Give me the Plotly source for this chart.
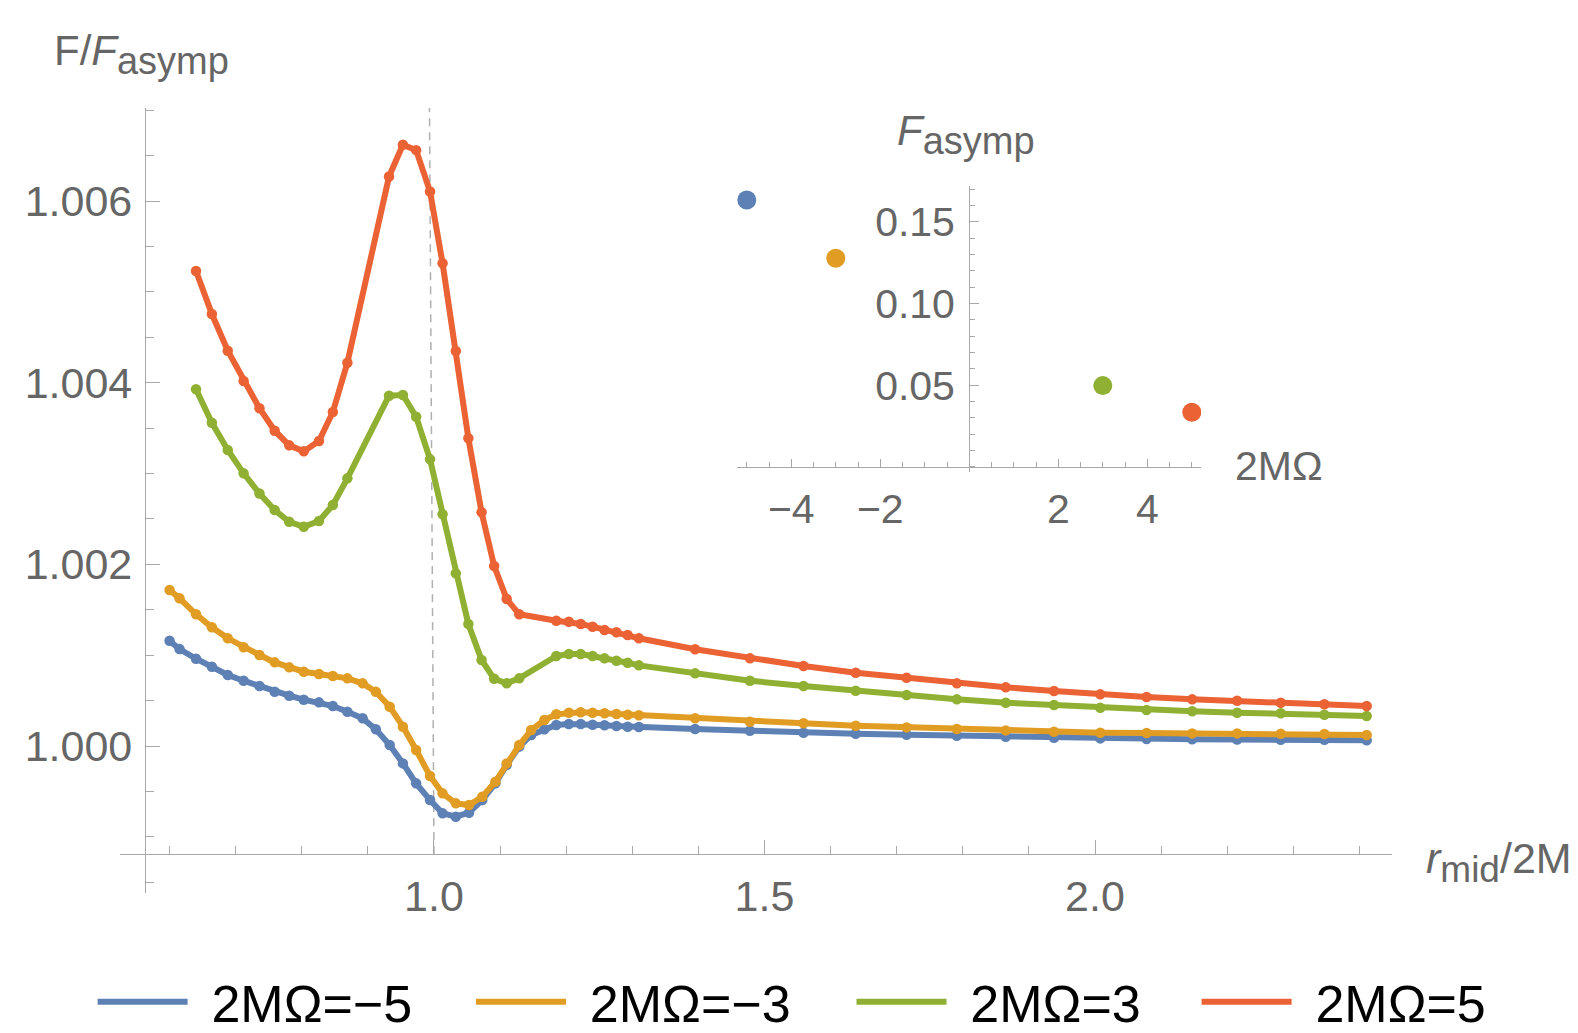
import plotly.graph_objects as go

# ---------------- data ----------------
# r_mid/2M sampling for 2MΩ = -5 and -3
x_neg = [0.600, 0.615, 0.640, 0.664, 0.688, 0.712, 0.736, 0.759, 0.781, 0.803,
         0.826, 0.847, 0.869, 0.892, 0.912, 0.933, 0.953, 0.973, 0.994, 1.013,
         1.033, 1.053, 1.073, 1.093, 1.110, 1.129, 1.147, 1.167, 1.185, 1.204,
         1.222, 1.240, 1.258, 1.276, 1.293, 1.310, 1.395, 1.478, 1.559, 1.638,
         1.715, 1.791, 1.865, 1.938, 2.008, 2.078, 2.147, 2.215, 2.281, 2.347,
         2.411]

y_m5 = [1.001159, 1.001068, 1.000961, 1.000873, 1.000782, 1.000719, 1.000661, 1.000598, 1.000554, 1.000510,
        1.000481, 1.000440, 1.000378, 1.000305, 1.000184, 1.000011, 0.999809, 0.999589, 0.999405, 0.999259,
        0.999222, 0.999266, 0.999405, 0.999589, 0.999791, 0.999993, 1.000121, 1.000185, 1.000231, 1.000242,
        1.000242, 1.000235, 1.000228, 1.000220, 1.000213, 1.000210, 1.000187, 1.000169, 1.000147, 1.000135,
        1.000125, 1.000114, 1.000103, 1.000092, 1.000084, 1.000078, 1.000074, 1.000072, 1.000070, 1.000068,
        1.000064]

y_m3 = [1.001717, 1.001626, 1.001450, 1.001307, 1.001186, 1.001087, 1.001002, 1.000921, 1.000866, 1.000818,
        1.000793, 1.000771, 1.000745, 1.000690, 1.000598, 1.000433, 1.000213, 0.999956, 0.999670, 0.999479,
        0.999369, 0.999350, 0.999442, 0.999607, 0.999809, 1.000011, 1.000176, 1.000286, 1.000349, 1.000367,
        1.000371, 1.000367, 1.000360, 1.000352, 1.000345, 1.000338, 1.000305, 1.000268, 1.000250, 1.000224,
        1.000205, 1.000187, 1.000172, 1.000158, 1.000147, 1.000143, 1.000139, 1.000139, 1.000136, 1.000132,
        1.000121]

# r_mid/2M sampling for 2MΩ = 3 and 5
x_pos = [0.640, 0.664, 0.688, 0.712, 0.736, 0.759, 0.781, 0.803, 0.826, 0.847,
         0.869, 0.932, 0.953, 0.973, 0.994, 1.013, 1.033, 1.052, 1.072, 1.091,
         1.110, 1.129, 1.185, 1.204, 1.222, 1.240, 1.258, 1.276, 1.293, 1.310,
         1.395, 1.478, 1.559, 1.638, 1.715, 1.791, 1.865, 1.938, 2.008, 2.078,
         2.147, 2.215, 2.281, 2.347, 2.411]

y_p3 = [1.003927, 1.003559, 1.003259, 1.003002, 1.002780, 1.002598, 1.002469, 1.002414, 1.002477, 1.002653,
        1.002947, 1.003857, 1.003864, 1.003625, 1.003156, 1.002551, 1.001901, 1.001343, 1.000947, 1.000740,
        1.000690, 1.000745, 1.000991, 1.001013, 1.001013, 1.000991, 1.000965, 1.000939, 1.000917, 1.000888,
        1.000800, 1.000719, 1.000661, 1.000609, 1.000561, 1.000514, 1.000477, 1.000451, 1.000422, 1.000396,
        1.000382, 1.000367, 1.000360, 1.000345, 1.000330]

y_p5 = [1.005229, 1.004756, 1.004352, 1.004018, 1.003718, 1.003471, 1.003310, 1.003244, 1.003358, 1.003677,
        1.004220, 1.006270, 1.006620, 1.006560, 1.006105, 1.005314, 1.004349, 1.003388, 1.002573, 1.001982,
        1.001618, 1.001450, 1.001380, 1.001369, 1.001343, 1.001314, 1.001277, 1.001252, 1.001222, 1.001186,
        1.001065, 1.000965, 1.000881, 1.000807, 1.000752, 1.000690, 1.000646, 1.000606, 1.000569, 1.000539,
        1.000514, 1.000499, 1.000477, 1.000459, 1.000440]

# inset: F_asymp vs 2MΩ
omega = [-5, -3, 3, 5]
f_asymp = [0.1634, 0.1277, 0.0498, 0.0335]

series_names = ["2MΩ=−5", "2MΩ=−3", "2MΩ=3", "2MΩ=5"]
colors = ["#5E81B5", "#E19C24", "#8FB032", "#EB6235"]

main_xtickvals = [1.0, 1.5, 2.0]
main_xticktext = ["1.0", "1.5", "2.0"]
main_ytickvals = [1.000, 1.002, 1.004, 1.006]
main_yticktext = ["1.000", "1.002", "1.004", "1.006"]
inset_xtickvals = [-4, -2, 2, 4]
inset_xticktext = ["−4", "−2", "2", "4"]
inset_ytickvals = [0.05, 0.10, 0.15]
inset_yticktext = ["0.05", "0.10", "0.15"]

# ---------------- figure ----------------
FONT = "Liberation Sans, Arial, Helvetica, sans-serif"
AX = "#a8a8a8"
TXT = "#666666"

OFF = 8                      # page body margin of the html page
W, H = 1578 - OFF, 1033 - OFF
# plot area in page pixels: x 120..1392, y 108..893
L, T = 120 - OFF, 108 - OFF
R, B = W - (1392 - OFF), H - (893 - OFF)
pw, ph = W - L - R, H - T - B


def px_x(p):
    """page pixel -> paper x"""
    return (p - OFF - L) / pw


def px_y(p):
    """page pixel -> paper y"""
    return (H - B - (p - OFF)) / ph


xs = [x_neg, x_neg, x_pos, x_pos]
ys = [y_m5, y_m3, y_p3, y_p5]
legend_ids = ["legend", "legend2", "legend3", "legend4"]
legend_left_px = [97.6, 476.0, 856.5, 1201.6]   # where each legend swatch starts (page px)
LEG_OFF = 5
GAP = "\u00a0\u200a"

fig = go.Figure()
for x, y, name, c, lid in zip(xs, ys, series_names, colors, legend_ids):
    fig.add_trace(go.Scatter(x=x, y=y, mode="lines", name=GAP + name, legend=lid,
                             line=dict(color=c, width=6), showlegend=True))
    fig.add_trace(go.Scatter(x=x, y=y, mode="markers", name=name,
                             marker=dict(color=c, size=10.5), showlegend=False))

fig.add_trace(go.Scatter(x=omega, y=f_asymp, mode="markers", xaxis="x2", yaxis="y2",
                         marker=dict(color=colors, size=19), showlegend=False))

leg_common = dict(orientation="h", xref="container", yref="container",
                  xanchor="left", yanchor="middle", y=(H - (1002.0 - OFF)) / H,
                  font=dict(size=52, color="black", family=FONT), itemwidth=90,
                  bgcolor="rgba(0,0,0,0)", borderwidth=0)
legends = {}
for lid, lx in zip(legend_ids, legend_left_px):
    legends[lid] = dict(leg_common, x=(lx - OFF - LEG_OFF) / W)

fig.update_layout(
    width=W, height=H,
    margin=dict(l=L, r=R, t=T, b=B, autoexpand=False),
    paper_bgcolor="white", plot_bgcolor="white",
    font=dict(family=FONT, color=TXT),
    xaxis=dict(range=[0.5250, 2.4493], anchor="free", position=px_y(854), automargin=False,
               showline=True, linecolor=AX, linewidth=1.3,
               ticks="inside", ticklen=14, tickwidth=1.3, tickcolor=AX,
               tickmode="array", tickvals=main_xtickvals, ticktext=main_xticktext,
               tickfont=dict(size=43, color=TXT), ticklabelstandoff=4,
               minor=dict(dtick=0.1, tick0=0, ticks="inside", ticklen=8, tickwidth=1.3,
                          tickcolor=AX, showgrid=False),
               showgrid=False, zeroline=False),
    yaxis=dict(range=[0.998382, 1.007024], anchor="free", position=px_x(145), automargin=False,
               showline=True, linecolor=AX, linewidth=1.3,
               ticks="inside", ticklen=14, tickwidth=1.3, tickcolor=AX,
               tickmode="array", tickvals=main_ytickvals, ticktext=main_yticktext,
               tickfont=dict(size=43, color=TXT), ticklabelstandoff=4,
               minor=dict(dtick=0.0005, tick0=1.0, ticks="inside", ticklen=8, tickwidth=1.3,
                          tickcolor=AX, showgrid=False),
               showgrid=False, zeroline=False),
    xaxis2=dict(domain=[px_x(737), px_x(1201)], range=[-5.220, 5.207],
                anchor="free", position=px_y(467), automargin=False,
                showline=True, linecolor=AX, linewidth=1.3,
                ticks="inside", ticklen=8, tickwidth=1.2, tickcolor=AX,
                tickmode="array", tickvals=inset_xtickvals, ticktext=inset_xticktext,
                tickfont=dict(size=41, color=TXT), ticklabelstandoff=6,
                minor=dict(dtick=0.5, tick0=0, ticks="inside", ticklen=5, tickwidth=1.2,
                           tickcolor=AX, showgrid=False),
                showgrid=False, zeroline=False),
    yaxis2=dict(domain=[px_y(471.7), px_y(186)], range=[-0.00288, 0.17197],
                anchor="free", position=px_x(969.3), automargin=False,
                showline=True, linecolor=AX, linewidth=1.3,
                ticks="inside", ticklen=9, tickwidth=1.2, tickcolor=AX,
                tickmode="array", tickvals=inset_ytickvals, ticktext=inset_yticktext,
                tickfont=dict(size=41, color=TXT), ticklabelstandoff=6,
                minor=dict(dtick=0.01, tick0=0, ticks="inside", ticklen=5, tickwidth=1.2,
                           tickcolor=AX, showgrid=False),
                showgrid=False, zeroline=False),
    shapes=[dict(type="line", xref="x", yref="y", x0=1.0, y0=0.99881, x1=0.9932, y1=1.007024,
                 line=dict(color="#b0b0b0", width=1.5, dash="8px,6px"), layer="below")],
    annotations=[
        dict(text="F/<i>F</i><sub><span style='font-size:38px'>asymp</span></sub>",
             xref="paper", yref="paper", x=px_x(52), y=px_y(54), xanchor="left", yanchor="middle",
             showarrow=False, font=dict(size=42, color=TXT, family=FONT)),
        dict(text="<i>r</i><sub><span style='font-size:37px'>mid</span></sub>/2M",
             xref="paper", yref="paper", x=px_x(1424), y=px_y(862), xanchor="left", yanchor="middle",
             showarrow=False, font=dict(size=43, color=TXT, family=FONT)),
        dict(text="<i>F</i><sub><span style='font-size:38px'>asymp</span></sub>",
             xref="paper", yref="paper", x=px_x(895), y=px_y(134), xanchor="left", yanchor="middle",
             showarrow=False, font=dict(size=42, color=TXT, family=FONT)),
        dict(text="2MΩ",
             xref="paper", yref="paper", x=px_x(1233), y=px_y(466), xanchor="left", yanchor="middle",
             showarrow=False, font=dict(size=41, color=TXT, family=FONT)),
    ],
    **legends,
)

fig.write_html("out.html")
